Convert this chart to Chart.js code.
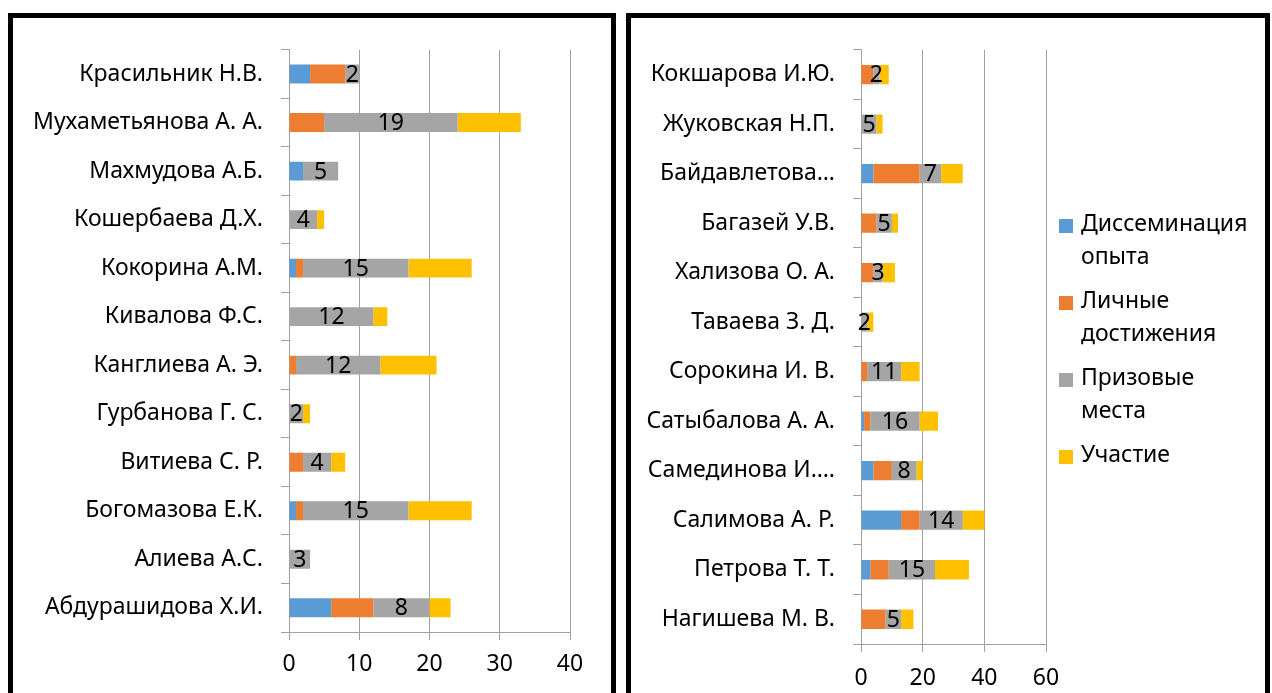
<!DOCTYPE html>
<html>
<head>
<meta charset="utf-8">
<script src="https://cdn.jsdelivr.net/npm/chart.js@4.4.1/dist/chart.umd.min.js"></script>
<style>
  html, body { margin: 0; padding: 0; background: #fff; width: 1272px; height: 693px; overflow: hidden; }
  .panel { position: absolute; box-sizing: border-box; border: 5px solid #000; background: #fff; }
  canvas { position: absolute; }
</style>
</head>
<body>
<div class="panel" style="left:8px; top:13px; width:608px; height:700px;"></div>
<div class="panel" style="left:626px; top:13px; width:644px; height:700px;"></div>
<canvas id="left" width="598" height="675" style="left:13px; top:18px;"></canvas>
<canvas id="right" width="634" height="675" style="left:631px; top:18px;"></canvas>
<script>
// ---- Data ----
const seriesNames = [['Диссеминация', 'опыта'], ['Личные', 'достижения'], ['Призовые', 'места'], ['Участие']];
const seriesColors = ['#5B9BD5', '#ED7D31', '#A5A5A5', '#FFC000'];

const leftCategories = ['Красильник Н.В.', 'Мухаметьянова А. А.', 'Махмудова А.Б.', 'Кошербаева Д.Х.', 'Кокорина А.М.', 'Кивалова Ф.С.', 'Канглиева А. Э.', 'Гурбанова Г. С.', 'Витиева С. Р.', 'Богомазова Е.К.', 'Алиева А.С.', 'Абдурашидова Х.И.'];
const leftDissemination = [3, null, 2, null, 1, null, null, null, null, 1, null, 6];
const leftPersonal      = [5, 5, null, null, 1, null, 1, null, 2, 1, null, 6];
const leftPrizes        = [2, 19, 5, 4, 15, 12, 12, 2, 4, 15, 3, 8];
const leftParticipation = [null, 9, null, 1, 9, 2, 8, 1, 2, 9, null, 3];
const leftTicks = [0, 10, 20, 30, 40];

const rightCategories = ['Кокшарова И.Ю.', 'Жуковская Н.П.', 'Байдавлетова…', 'Багазей У.В.', 'Хализова О. А.', 'Таваева З. Д.', 'Сорокина И. В.', 'Сатыбалова А. А.', 'Самединова И.…', 'Салимова А. Р.', 'Петрова Т. Т.', 'Нагишева М. В.'];
const rightDissemination = [null, null, 4, null, null, null, null, 1, 4, 13, 3, null];
const rightPersonal      = [4, null, 15, 5, 4, null, 2, 2, 6, 6, 6, 8];
const rightPrizes        = [2, 5, 7, 5, 3, 2, 11, 16, 8, 14, 15, 5];
const rightParticipation = [3, 2, 7, 2, 4, 2, 6, 6, 2, 7, 11, 4];
const rightTicks = [0, 20, 40, 60];

const FONT = '"Noto Sans", "Open Sans", sans-serif';
const FS = 23;
const GRID = '#a0a0a0';

const valueLabels = {
  id: 'valueLabels',
  afterDatasetsDraw(chart) {
    const ctx = chart.ctx;
    const meta = chart.getDatasetMeta(2);
    const data = chart.data.datasets[2].data;
    ctx.save();
    ctx.font = FS + 'px ' + FONT;
    ctx.fillStyle = '#000';
    ctx.textAlign = 'center';
    ctx.textBaseline = 'middle';
    meta.data.forEach((el, i) => {
      if (data[i] == null) return;
      ctx.fillText(String(data[i]), (el.x + el.base) / 2, el.y + 1);
    });
    ctx.restore();
  }
};

const customLegend = {
  id: 'customLegend',
  afterDraw(chart, args, opts) {
    if (!opts.show) return;
    const ctx = chart.ctx;
    ctx.save();
    ctx.font = FS + 'px ' + FONT;
    ctx.textBaseline = 'middle';
    ctx.textAlign = 'left';
    let y = opts.top;
    chart.data.datasets.forEach((ds) => {
      const lines = ds.legendLines;
      ctx.fillStyle = ds.backgroundColor;
      ctx.fillRect(opts.left, y - 5, 14, 14);
      ctx.fillStyle = '#000';
      lines.forEach((ln, k) => ctx.fillText(ln, opts.left + 22, y + k * 33));
      y += opts.itemGap;
    });
    ctx.restore();
  }
};

function makeChart(id, cats, series, ticks, max, dims, legend) {
  const datasets = series.map((d, i) => ({
    label: seriesNames[i].join(' '),
    legendLines: seriesNames[i],
    data: d,
    backgroundColor: seriesColors[i],
    borderWidth: 0,
    categoryPercentage: 1,
    barPercentage: 0.39
  }));
  return new Chart(document.getElementById(id), {
    type: 'bar',
    data: { labels: cats, datasets },
    plugins: [valueLabels, customLegend],
    options: {
      indexAxis: 'y',
      responsive: false,
      animation: false,
      devicePixelRatio: 1,
      layout: { padding: { top: dims.top, right: dims.right, left: 0, bottom: 0 } },
      plugins: {
        legend: { display: false },
        tooltip: { enabled: false },
        customLegend: legend
      },
      scales: {
        x: {
          stacked: true,
          min: 0,
          max: max,
          afterBuildTicks(axis) { axis.ticks = ticks.map(v => ({ value: v })); },
          afterFit(axis) { axis.height = dims.xh; },
          grid: { color: GRID, lineWidth: 1, drawTicks: true, tickLength: 8, tickColor: GRID },
          border: { display: true, color: GRID, width: 1 },
          ticks: { color: '#000', font: { family: FONT, size: FS }, padding: dims.xpad, maxRotation: 0 }
        },
        y: {
          stacked: true,
          afterFit(axis) { axis.width = dims.yw; },
          grid: { offset: true, drawOnChartArea: false, drawTicks: true, tickLength: 8, color: GRID, tickColor: GRID },
          border: { display: true, color: GRID, width: 1 },
          ticks: { color: '#000', font: { family: FONT, size: FS }, padding: 18, autoSkip: false }
        }
      }
    }
  });
}

makeChart('left', leftCategories, [leftDissemination, leftPersonal, leftPrizes, leftParticipation], leftTicks, 40,
  { top: 23, right: 41, xh: 61, yw: 276, xpad: 11 }, { show: false });
makeChart('right', rightCategories, [rightDissemination, rightPersonal, rightPrizes, rightParticipation], rightTicks, 60,
  { top: 7, right: 219, xh: 49, yw: 230, xpad: 13 }, { show: true, left: 428, top: 206, itemGap: 77 });
</script>
</body>
</html>
